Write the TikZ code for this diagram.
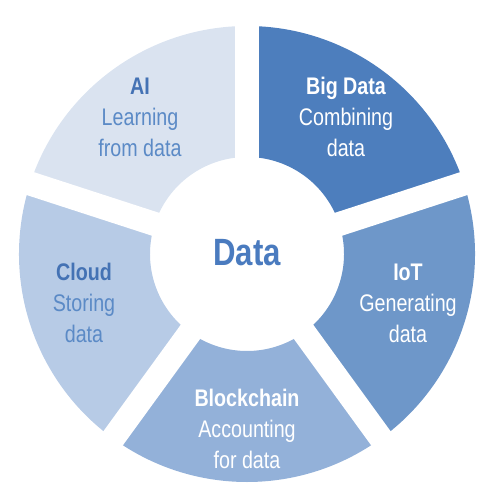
\documentclass[tikz,border=0pt]{standalone}
\usepackage{fontspec}
\setmainfont{Liberation Sans}[FakeStretch=0.82]
\definecolor{cAI}{HTML}{DAE3F0}
\definecolor{cBig}{HTML}{4D7EBD}
\definecolor{cIoT}{HTML}{6E97C9}
\definecolor{cBlock}{HTML}{93B1D9}
\definecolor{cCloud}{HTML}{B7CBE6}
\definecolor{tDark}{HTML}{4472B4}
\definecolor{tSub}{HTML}{5B8AC6}
\definecolor{tData}{HTML}{4A7BBF}
\tikzset{
  lbl/.style={align=center, inner sep=0pt, font=\fontsize{24}{31}\selectfont},
  sep/.style={white, line width=24pt},
}
\newcommand{\wedgeRing}[3]{%
  \fill[#3] (#1:97) -- (#1:228) arc[start angle=#1, end angle=#2, radius=228] -- (#2:97) arc[start angle=#2, end angle=#1, radius=97] -- cycle;}
\begin{document}
\begin{tikzpicture}[x=1pt,y=1pt]
\useasboundingbox (0,0) rectangle (500,499);
\begin{scope}[shift={(247,245)}]
  \wedgeRing{90}{162}{cAI}
  \wedgeRing{162}{234}{cCloud}
  \wedgeRing{234}{306}{cBlock}
  \wedgeRing{306}{378}{cIoT}
  \wedgeRing{18}{90}{cBig}
  \foreach \a in {90,18,-54,-126,162} \draw[sep] (0,0) -- (\a:245);
  \coordinate (c) at (0,0);
\end{scope}
\node[font=\fontsize{38}{40}\selectfont\bfseries, text=tData] (data) at (247,246) {Data};
\node[lbl] (ai) at (140,382) {\textcolor{tDark}{\bfseries AI}\\\textcolor{tSub}{Learning}\\\textcolor{tSub}{from data}};
\node[lbl, text=white] (big) at (346,382) {{\bfseries Big Data}\\Combining\\data};
\node[lbl, text=white] (iot) at (408,196) {{\bfseries IoT}\\Generating\\data};
\node[lbl, text=white] (block) at (247,70) {{\bfseries Blockchain}\\Accounting\\for data};
\node[lbl] (cloud) at (84,196) {\textcolor{tDark}{\bfseries Cloud}\\\textcolor{tSub}{Storing}\\\textcolor{tSub}{data}};
\end{tikzpicture}
\end{document}
